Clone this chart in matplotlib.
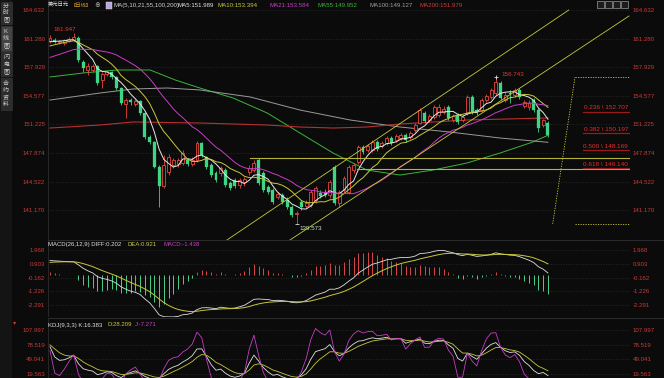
import numpy as np
import pandas as pd
import matplotlib
matplotlib.use("Agg")
import matplotlib.pyplot as plt
from matplotlib.patches import Rectangle

# ---- daily USD/JPY candles ----
opens = [161.00, 161.12, 160.88, 160.76, 161.00, 161.12, 161.35, 158.54, 157.60, 157.60,
         158.07, 156.43, 157.13, 157.36, 156.78, 155.49, 153.62, 154.08, 153.62, 153.97,
         152.56, 149.75, 149.16, 146.23, 144.00, 145.64, 146.47, 146.58, 146.70, 147.05,
         146.58, 147.05, 149.04, 147.40, 146.47, 145.53, 145.53, 145.88, 144.36, 144.71,
         144.12, 144.47, 145.64, 145.88, 147.05, 145.53, 143.89, 143.54, 142.72, 142.95,
         142.36, 141.54, 140.72, 142.13, 141.66, 141.78, 142.36, 143.18, 143.30, 142.95,
         146.23, 142.01, 143.54, 143.30, 145.88, 146.82, 148.58, 148.22, 148.22, 149.16,
         148.69, 149.04, 149.63, 149.40, 149.63, 149.98, 149.75, 150.57, 151.39, 152.56,
         151.74, 152.09, 152.33, 152.68, 153.26, 151.74, 152.33, 151.74, 152.56, 154.44,
         152.91, 152.91, 154.08, 154.44, 154.90, 156.08, 154.08, 154.90, 154.67, 155.26,
         153.38, 153.26, 154.08, 152.91, 151.15, 151.39]
closes = [161.35, 160.88, 161.00, 161.12, 161.23, 161.47, 158.77, 157.83, 158.07, 158.07,
          156.08, 157.13, 157.48, 156.78, 155.49, 153.73, 154.08, 153.85, 153.97, 152.56,
          149.75, 149.16, 146.23, 144.00, 146.47, 147.40, 147.05, 147.05, 147.87, 146.58,
          147.05, 149.04, 147.64, 146.23, 145.29, 144.71, 146.11, 144.12, 143.77, 144.00,
          144.71, 144.83, 146.11, 146.70, 144.36, 143.54, 143.30, 142.13, 143.07, 142.13,
          141.54, 140.61, 140.84, 141.54, 142.01, 143.30, 143.77, 142.83, 142.95, 144.47,
          142.01, 143.30, 144.94, 146.23, 146.47, 148.58, 147.99, 148.69, 149.16, 148.34,
          149.04, 149.63, 149.04, 149.86, 149.98, 149.40, 150.22, 151.15, 152.91, 151.62,
          152.21, 153.26, 153.26, 153.03, 151.97, 152.21, 151.51, 152.09, 154.44, 152.68,
          152.56, 154.08, 154.55, 155.26, 156.19, 154.32, 154.67, 154.79, 155.26, 154.44,
          153.85, 153.73, 152.91, 150.80, 151.74, 149.98]
highs = [161.70, 161.35, 161.12, 161.23, 161.47, 161.947, 161.58, 158.77, 158.42, 158.30,
         158.19, 157.36, 157.60, 157.48, 156.90, 155.61, 154.32, 154.32, 154.20, 154.08,
         152.68, 149.98, 149.28, 146.47, 147.64, 147.76, 147.29, 147.29, 148.22, 147.29,
         147.40, 149.28, 149.16, 147.52, 146.70, 145.76, 146.35, 146.11, 144.59, 144.94,
         144.94, 145.06, 146.47, 147.05, 147.29, 145.76, 144.12, 143.77, 143.30, 143.18,
         142.72, 141.78, 141.08, 142.36, 142.36, 143.54, 144.00, 143.54, 143.65, 144.71,
         146.47, 143.54, 145.18, 146.47, 146.70, 148.81, 148.81, 148.93, 149.40, 149.40,
         149.28, 149.86, 149.86, 150.10, 150.22, 150.22, 150.45, 151.39, 153.15, 152.79,
         152.44, 153.50, 153.62, 153.38, 153.50, 152.44, 152.56, 152.33, 154.67, 154.67,
         153.15, 154.32, 154.79, 155.49, 156.743, 156.31, 155.02, 155.26, 155.49, 155.49,
         154.08, 154.08, 154.32, 153.15, 151.86, 151.62]
lows = [160.76, 160.76, 160.65, 160.53, 160.88, 161.00, 158.54, 157.36, 157.01, 157.36,
        155.84, 155.49, 156.90, 156.55, 155.26, 153.50, 151.97, 153.50, 153.38, 152.33,
        149.50, 148.93, 146.11, 141.54, 143.77, 145.29, 146.11, 146.23, 146.47, 146.35,
        146.35, 146.82, 147.40, 146.00, 145.06, 144.47, 145.18, 143.89, 143.54, 143.77,
        143.77, 144.00, 145.29, 145.64, 144.12, 143.30, 143.07, 141.90, 142.48, 141.90,
        141.31, 140.37, 139.573, 141.19, 141.43, 141.54, 142.01, 142.60, 142.72, 142.60,
        141.78, 141.54, 143.18, 143.07, 145.53, 146.58, 147.76, 147.99, 147.99, 148.11,
        148.46, 148.81, 148.81, 149.16, 149.40, 149.16, 149.50, 150.33, 151.27, 151.39,
        151.51, 151.86, 152.09, 152.44, 151.74, 151.51, 151.27, 151.51, 152.33, 152.44,
        152.33, 152.68, 153.85, 154.20, 154.67, 154.08, 153.85, 153.73, 154.44, 154.20,
        153.15, 152.91, 152.68, 150.33, 150.92, 149.75]

# closes before the visible window (estimated), used to warm up MA / MACD
pre_closes = [156.5, 155.6, 153.0, 152.9, 153.9, 154.6, 155.5, 155.8, 155.7, 156.2,
              156.5, 154.9, 155.4, 155.6, 156.3, 156.9, 157.0, 156.8, 157.2, 156.9,
              157.0, 157.3, 157.0, 157.4, 157.6, 157.9, 158.2, 158.0, 158.3, 158.6,
              159.0, 159.4, 159.7, 159.8, 160.2, 160.5, 160.7, 160.8, 160.9, 160.8]
kdj_start = 80.0

# long moving averages (candle index, value)
ma55_idx = [0, 7, 14.1, 21.1, 26.4, 31.6, 38.6, 45.8, 52.7, 59.7, 66.8, 73.8, 80.8, 87.9, 94.9, 101.8, 105]
ma55_val = [156.78, 157.25, 157.60, 157.60, 156.43, 155.49, 154.32, 152.56, 150.22, 147.87,
            145.88, 145.29, 145.88, 146.70, 147.87, 149.16, 149.952]
ma100_idx = [0, 10.5, 17.5, 24.7, 31.6, 42.2, 52.7, 63.3, 73.8, 84.3, 94.9, 105]
ma100_val = [154.08, 154.90, 155.37, 155.49, 155.26, 154.44, 152.91, 151.74, 150.92, 150.33, 149.63, 149.127]
ma200_idx = [0, 10.5, 17.5, 31.6, 45.8, 52.7, 59.7, 66.8, 73.8, 87.9, 105]
ma200_val = [150.80, 151.15, 151.51, 151.39, 151.15, 150.92, 150.80, 150.92, 151.27, 151.74, 151.979]

price_ticks = [164.632, 161.280, 157.929, 154.577, 151.225, 147.874, 144.522, 141.170]
macd_ticks = [1.968, 0.903, -0.162, -1.226, -2.291]
kdj_ticks = [107.997, 78.519, 49.041, 19.563]

# drawing tools: channel lines and horizontal levels (candle index, price)
channel_lines = [((37.3, 137.68), (109.4, 164.63)), ((50.6, 137.68), (122.1, 163.93))]
hlines = [(42.2, 147.29), (64.7, 145.95)]
fib_high, fib_low = 156.743, 139.573
fib_ratios = ["0.236", "0.382", "0.500", "0.618"]
fib_prices = [152.707, 150.197, 148.169, 146.140]

title_parts = [(48, "美元日元", "#e6e6e6", 3.8), (70, "【日线】", "#e0a838", 3.8),
               (94, "⊕", "#b0b0b0", 4.2),
               (114, "MA(5,10,21,55,100,200)", "#d0d0d0", 4.4), (178, "MA5:151.989", "#e6e6e6", 4.4),
               (218, "MA10:153.394", "#c8c83c", 4.4), (270, "MA21:153.584", "#c83cc8", 4.4),
               (317, "MA55:149.952", "#3cb43c", 4.4), (369, "MA100:149.127", "#a0a0a0", 4.4),
               (419, "MA200:151.979", "#d23838", 4.4)]
macd_parts = [(48, "MACD(26,12,9) DIFF:0.202", "#e0e0e0"), (128, "DEA:0.921", "#c8c83c"),
              (163, "MACD:-1.438", "#c83cc8")]
kdj_parts = [(48, "KDJ(9,3,3) K:16.383", "#e0e0e0"), (108, "D:28.209", "#c8c83c"),
             (135, "J:-7.271", "#c83cc8")]

BG = "#0b0b0b"
RED = "#e8463e"
GREEN = "#3fd584"
LBL = "#c83a3a"
YEL = "#c8c83c"
FONTS = ["Liberation Sans", "Noto Sans CJK SC", "DejaVu Sans"]
W, H = 664, 378

fig = plt.figure(figsize=(W / 100, H / 100), dpi=100, facecolor=BG)


def px_axes(x0, y0, x1, y1):
    a = fig.add_axes([x0 / W, 1 - y1 / H, (x1 - x0) / W, (y1 - y0) / H])
    a.set_facecolor(BG)
    for s in a.spines.values():
        s.set_visible(False)
    a.set_xticks([])
    return a


def ftext(x, y, s, color, size=4.4, **kw):
    fig.text(x / W, 1 - y / H, s, color=color, fontsize=size, family=FONTS,
             va="center", ha="left", **kw)


def yaxis_labels(a, ticks, fmt):
    a.set_yticks(ticks)
    a.set_yticklabels([fmt.format(t) for t in ticks], family=FONTS, fontsize=4.4, color=LBL)
    a.tick_params(axis="y", length=0, pad=2, labelleft=True, labelright=True)
    a.grid(axis="y", color="#2e2e2e", linestyle=(0, (1, 2)), linewidth=0.6)
    a.axvline(-0.42, color="#262626", lw=0.8)


ax = px_axes(48, 0, 630, 240)
ax_m = px_axes(48, 240, 630, 317)
ax_k = px_axes(48, 318, 630, 378)
xl = (-0.42, 122.3)
for a in (ax, ax_m, ax_k):
    a.set_xlim(*xl)
ax.set_ylim(137.68, 165.80)
ax_m.set_ylim(-3.22, 2.742)
ax_k.set_ylim(11.5, 132.1)
yaxis_labels(ax, price_ticks, "{:.3f}")
yaxis_labels(ax_m, macd_ticks, "{:.3f}")
yaxis_labels(ax_k, kdj_ticks, "{:.3f}")

# ---- candles ----
o, c, h, l = map(np.array, (opens, closes, highs, lows))
idx = np.arange(len(c))
up = c >= o
ax.vlines(idx, l, h, colors=np.where(up, RED, GREEN), lw=0.6, zorder=3)
bot = np.minimum(o, c)
bh = np.maximum(np.abs(c - o), 0.05)
ax.bar(idx[up], bh[up], bottom=bot[up], width=0.62, facecolor=BG, edgecolor=RED, lw=0.6, zorder=4)
ax.bar(idx[~up], bh[~up], bottom=bot[~up], width=0.62, color=GREEN, edgecolor=GREEN, lw=0.2, zorder=4)

# ---- moving averages ----
allc = pd.Series(np.r_[pre_closes, closes])
n0 = len(pre_closes)
for n, col in ((5, "#e8e8e8"), (10, YEL), (21, "#c83cc8")):
    ax.plot(idx, allc.rolling(n).mean().values[n0:], color=col, lw=0.7, zorder=5)
ax.plot(ma55_idx, ma55_val, color="#3cb43c", lw=0.7, zorder=2)
ax.plot(ma100_idx, ma100_val, color="#9a9a9a", lw=0.7, zorder=2)
ax.plot(ma200_idx, ma200_val, color="#b83030", lw=0.8, zorder=2)

# ---- drawing tools ----
for (x0, y0), (x1, y1) in channel_lines:
    ax.plot([x0, x1], [y0, y1], color=YEL, lw=0.6, zorder=6)
for x0, y0 in hlines:
    ax.plot([x0, xl[1]], [y0, y0], color="#b4b43a", lw=0.8, zorder=6)

fx0, fx1 = 106.0, 110.7
ax.plot([fx0, fx1], [fib_low, fib_high], color=YEL, lw=0.6, ls=(0, (1.5, 1.5)), zorder=6)
for p in (fib_low, fib_high):
    ax.plot([fx1, xl[1]], [p, p], color=YEL, lw=0.6, ls=(0, (1.5, 1.5)), zorder=6)
for r, p in zip(fib_ratios, fib_prices):
    ax.plot([112.4, xl[1]], [p, p], color="#9a1a1a", lw=0.9, zorder=6)
    ax.text(121.9, p + 0.15, f"{r} \\ {p:.3f}", color="#e03030", fontsize=4.6,
            family=FONTS, ha="right", va="bottom", zorder=7)

# high / low marks
hi1 = int(np.argmax(h[:20]))
ax.text(hi1 + 0.5, h[hi1] + 0.05, f"{h[hi1]:.3f}", color="#e03838", fontsize=4.5,
        family=FONTS, ha="right", va="bottom", zorder=7)
hi2 = 80 + int(np.argmax(h[80:]))
ax.plot(hi2, h[hi2], marker="+", color="#e0e0e0", ms=3, mew=0.6, zorder=7)
ax.text(hi2 + 1.3, h[hi2] + 0.05, f"{h[hi2]:.3f}", color="#e03838", fontsize=4.5,
        family=FONTS, ha="left", va="bottom", zorder=7)
lo = int(np.argmin(l))
ax.plot(lo, l[lo], marker="_", color="#e0e0e0", ms=3, mew=0.6, zorder=7)
ax.text(lo + 0.7, l[lo] - 0.25, f"{l[lo]:.3f}", color="#c8ecc8", fontsize=4.5,
        family=FONTS, ha="left", va="top", zorder=7)

# ---- MACD ----
diff = allc.ewm(span=12, adjust=False).mean() - allc.ewm(span=26, adjust=False).mean()
dea = diff.ewm(span=9, adjust=False).mean()
diff, dea = diff.values[n0:], dea.values[n0:]
hist = 2 * (diff - dea)
ax_m.vlines(idx, 0, hist, colors=np.where(hist >= 0, "#d84848", "#4ccf8c"), lw=0.7)
ax_m.plot(idx, diff, color="#e0e0e0", lw=0.6)
ax_m.plot(idx, dea, color=YEL, lw=0.7)

# ---- KDJ ----
hh = pd.Series(h).rolling(9, min_periods=1).max().values
ll = pd.Series(l).rolling(9, min_periods=1).min().values
rsv = (c - ll) / np.maximum(hh - ll, 1e-9) * 100
K, D = [], []
k, d = kdj_start, kdj_start
for v in rsv:
    k = 2 / 3 * k + v / 3
    d = 2 / 3 * d + k / 3
    K.append(k)
    D.append(d)
K, D = np.array(K), np.array(D)
J = 3 * K - 2 * D
ax_k.plot(idx, K, color="#e0e0e0", lw=0.6)
ax_k.plot(idx, D, color=YEL, lw=0.6)
ax_k.plot(idx, J, color="#c83cc8", lw=0.6)

# panel separators
for yy in (240, 318):
    fig.add_artist(plt.Line2D([48 / W, 1], [1 - yy / H] * 2, color="#2a2a2a", lw=0.8))

# ---- titles ----
for x, s, col, fs in title_parts:
    ftext(x, 5.5, s, col, size=fs)
fig.add_artist(Rectangle((106 / W, 1 - 8.5 / H), 6 / W, 6 / H, facecolor="#b8a8d8",
                         edgecolor="#e0e0e0", lw=0.3))
for x, s, col in macd_parts:
    ftext(x, 244.5, s, col, size=4.3)
for x, s, col in kdj_parts:
    ftext(x, 325, s, col, size=4.3)
ftext(13, 323, "▾", "#d83838", size=4.5)

# ---- left sidebar ----
fig.add_artist(Rectangle((0, 0), 12 / W, 1, facecolor="#141414", edgecolor="none"))
tabs = [("分时图", 2, 24, "#2c2c2c"), ("K线图", 26, 51, "#444444"),
        ("闪电图", 52, 76, "#2c2c2c"), ("合约资料", 78, 110, "#2c2c2c")]
for label, y0, y1, fc in tabs:
    fig.add_artist(Rectangle((0.5 / W, 1 - y1 / H), 11 / W, (y1 - y0) / H,
                             facecolor=fc, edgecolor="#3a3a3a", lw=0.4))
    step = (y1 - y0) / (len(label) + 0.4)
    for i, ch in enumerate(label):
        fig.text(6 / W, 1 - (y0 + step * (i + 0.7)) / H, ch, color="#d0d0d0",
                 fontsize=4.3, family=FONTS, ha="center", va="center")

# ---- top-right toolbar icons ----
for i in range(4):
    fig.add_artist(Rectangle(((597 + 8 * i) / W, 1 - 8 / H), 6.5 / W, 6.5 / H,
                             facecolor="#1c1c1c", edgecolor="#9a9a9a", lw=0.5))

fig.savefig("out.png", dpi=100, facecolor=BG)
